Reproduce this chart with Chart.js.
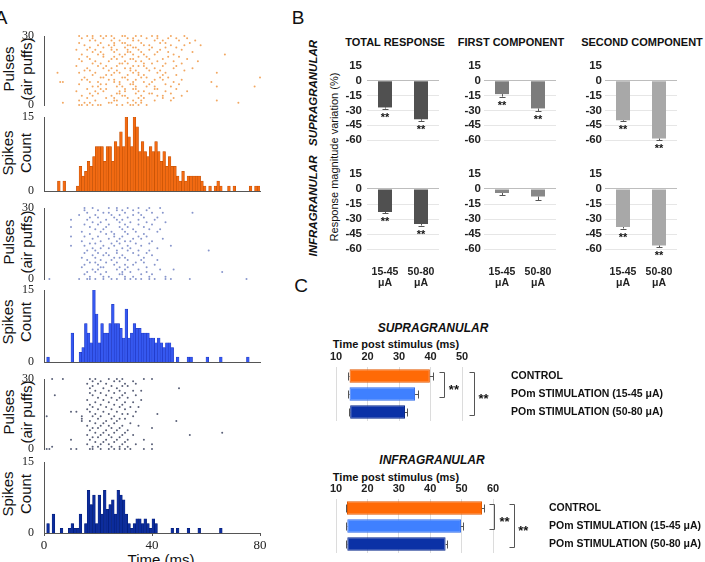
<!DOCTYPE html>
<html><head><meta charset="utf-8"><title>Figure</title>
<script src="https://cdn.jsdelivr.net/npm/chart.js"></script>
<style>
html,body{margin:0;padding:0;background:#fff;}
body{position:relative;width:705px;height:562px;overflow:hidden;font-family:'Liberation Sans',Arial,Helvetica,sans-serif;color:#111;}
.t{position:absolute;white-space:nowrap;transform:translate(-50%,-50%);line-height:1;}
.r{transform:translate(-50%,-50%) rotate(-90deg);text-align:center;}
.lab{font-size:19px;}
.ax{font-size:15px;line-height:17.5px;}
.bt{font-size:11px;font-weight:bold;}
.bi{font-weight:bold;font-style:italic;}
</style></head><body>
<div class="t lab" style="left:1px;top:17px">A</div>
<div class="t lab" style="left:298px;top:17px">B</div>
<div class="t lab" style="left:301px;top:285px">C</div>

<div class="t r ax" style="left:17px;top:69px">Pulses<br>(air puffs)</div>
<div class="t r ax" style="left:16px;top:153px">Spikes<br>Count</div>
<div class="t r ax" style="left:17px;top:242px">Pulses<br>(air puffs)</div>
<div class="t r ax" style="left:16px;top:322px">Spikes<br>Count</div>
<div class="t r ax" style="left:17px;top:412px">Pulses<br>(air puffs)</div>
<div class="t r ax" style="left:16px;top:494px">Spikes<br>Count</div>
<div class="t" style="left:161px;top:559px;font-size:15px">Time (ms)</div>

<div class="t bt" style="left:395px;top:42px">TOTAL RESPONSE</div>
<div class="t bt" style="left:511px;top:42px">FIRST COMPONENT</div>
<div class="t bt" style="left:642px;top:42px">SECOND COMPONENT</div>
<div class="t r bi" style="left:314px;top:93px;font-size:11.5px">SUPRAGRANULAR</div>
<div class="t r bi" style="left:314px;top:206px;font-size:11.5px">INFRAGRANULAR</div>
<div class="t r" style="left:334px;top:157px;font-size:11px">Response magnitude variation (%)</div>

<div class="t bi" style="left:433px;top:328px;font-size:12px">SUPRAGRANULAR</div>
<div class="t bt" style="left:396px;top:344px">Time post stimulus (ms)</div>
<div class="t bi" style="left:432px;top:460px;font-size:12px">INFRAGRANULAR</div>
<div class="t bt" style="left:396px;top:477px">Time post stimulus (ms)</div>

<script>
// ---------------- DATA ----------------
// Panel A: spike counts per 1-ms bin (0..79 ms)
const orangeCounts = [0,0,0,0,0,2,0,2,0,0,
  0,0,1,5,3,4,6,5,7,9,
  9,9,6,9,9,6,10,9,12,9,
  15,11,9,15,13,8,10,8,7,9,
  8,10,8,6,8,5,7,5,5,3,
  2,4,2,3,3,3,3,3,2,1,
  0,1,0,1,2,1,0,0,1,0,
  1,0,0,0,0,0,1,0,1,1];
const blueCounts = [0,1,0,0,0,0,0,0,0,0,
  6,0,0,2,3,8,6,4,15,10,
  4,8,6,6,8,12,8,8,7,5,
  11,5,6,8,7,7,6,6,6,5,
  5,4,5,4,3,4,4,3,0,1,
  0,0,0,1,1,0,0,0,0,0,
  1,0,0,0,0,1,0,0,0,0,
  0,0,0,0,0,1,0,0,0,0];
const navyCounts = [0,2,0,4,0,0,1,0,0,1,
  2,1,1,4,0,2,9,6,8,2,
  8,4,9,5,6,7,4,9,8,7,
  4,2,1,2,3,3,2,3,2,1,
  3,2,0,0,0,0,0,1,0,1,
  0,0,0,1,0,0,0,1,0,0,
  0,0,0,0,0,1,0,0,0,0,
  0,0,0,0,0,0,0,0,0,0];
// Raster spike times (ms), one list per pulse (trial 0..30)
const orangeRaster = [
  [13,14,16,18,20,21,27,29,32,33,35,38],[7,15,17,24,25,31,34,36,72],[13,19,26,27,33,36,41,47,64],
  [16,23,26,31,35,37,44,48],[14,18,25,29,30,36,42,44,51],[17,20,27,28,34,39,40,47],
  [12,19,22,28,30,35,37,45,53],[16,21,23,30,33,34,41,42,49],[18,20,27,29,34,38,41,47,64,78],
  [13,21,23,28,32,33,39,45,50],[6,7,17,20,26,28,33,37,40,48,62],[14,16,24,26,31,34,41,44,51],
  [15,21,22,29,30,36,38,43,46,80],[18,23,25,31,35,37,44,49],[5,13,19,26,28,33,35,42,45,64],
  [15,17,24,27,32,34,39,43,52],[16,22,25,30,32,38,41,48,55],[12,20,23,27,33,35,37,44,49],
  [18,21,28,29,31,37,40,45,51],[14,19,24,30,34,36,42,48,57],[13,17,25,27,32,33,39,44,53],
  [16,22,26,29,35,38,46,50],[14,20,22,28,30,33,37,41,48,67],[18,21,26,31,32,36,42,46,55],
  [12,16,19,25,27,31,35,39,43,51],[17,22,25,30,33,34,40,45,49],[15,20,24,26,31,32,37,39,47,52,58],
  [13,21,26,29,30,36,43,45,54],[17,19,25,28,33,35,41,44,50,56],[14,18,22,26,31,33,38,42,46,49,53],
  [13,16,18,21,23,25,29,30,34,36,40,42,47,52]];
const blueRaster = [
  [2,13,16,17,19,22,25,27,30,32,34,36,39,41,45,47,54,75],[17,22,24,30,33,39,45],[15,21,28,29,36,40],
  [16,19,23,29,32,38,66],[18,20,27,30,35,43,48],[14,21,22,28,31,38],[15,20,26,30,33,41],
  [17,19,23,27,34,37],[16,21,25,31,36,42],[14,19,26,28,30,37],[18,22,24,29,35,40],
  [15,20,23,27,33,38],[16,19,27,31,35,39,61],[18,21,24,29,32,42],[10,15,22,26,31,36,47],
  [17,19,25,28,34,39],[14,21,27,30,32,40],[18,24,28,33,36,44],[10,15,20,26,29,35,38],
  [17,23,26,31,37],[14,21,25,30,34,42],[19,22,29,33,39,43],[10,17,23,28,31,37],
  [15,20,24,30,35,40],[18,21,28,32,38,45],[10,16,23,27,29,35,41],[17,20,26,31,37,42],
  [13,19,25,28,33,36],[16,22,24,30,35,40,44,55],[15,20,27,29,33,38],[15,18,24,27,31,35,39,43]];
const navyRaster = [
  [1,2,10,12,17,18,21,24,26,28,30,32,37,40],[3,18,20,25,28,31],[16,21,24,29,34,40],
  [19,22,26,30],[10,17,23,27,31,37],[18,20,25,28],[16,21,24,29,33,54],[19,22,26,30,66],
  [17,23,27,31],[18,20,25,28,40],[16,21,24,29,35],[19,22,26,32],[14,17,23,27,49],
  [14,20,25,28,30],[1,14,18,21,26,33],[19,24,29,31,42],[10,12,17,22,27,34],[16,20,25,30],
  [18,23,28,32,35],[17,21,26,29],[19,24,30,33],[16,22,27,36],[20,25,28,31],[4,18,23,29,34],
  [17,21,26,30],[19,24,28,33,36],[17,22,27,50],[18,25,29,31],[16,20,23,30,34],
  [18,21,26,28,33],[3,7,17,19,24,27,29,37,40]];

// Panel B: response magnitude variation (%)
const bCats = [['15-45','μA'],['50-80','μA']];
const supraTotal = [-27,-39],   supraTotalErr = [1.2,1.5];
const supraFirst = [-13.5,-28], supraFirstErr = [2.5,3];
const supraSecond = [-40,-58.5],supraSecondErr = [1,1.5];
const infraTotal = [-23,-35],   infraTotalErr = [1,1.5];
const infraFirst = [-4,-7.5],   infraFirstErr = [2,3.5];
const infraSecond = [-38,-56.5],infraSecondErr = [1.5,1.8];
const starsBoth = ['**','**'];
const starsNone = ['',''];

// Panel C: latency windows (ms)
const cCats = ['CONTROL','POm STIMULATION (15-45 μA)','POm STIMULATION (50-80 μA)'];
const supraLatStart = [14.3,14.3,14.5], supraLatEnd = [39.8,35.1,31.9];
const supraLatEndErr = [0.85,1.0,0.5], supraLatStartErr = [0.4,0.4,0.3];
const infraLatStart = [13.5,13.6,13.6], infraLatEnd = [56.5,49.8,44.9];
const infraLatEndErr = [0.65,0.7,0.35], infraLatStartErr = [0.4,0.4,0.3];

// ---------------- SETUP ----------------
const SANS = "'Liberation Sans', Arial, Helvetica, sans-serif";
const SERIF = "'Liberation Serif', 'Times New Roman', serif";
Chart.defaults.font.family = SANS;
Chart.defaults.color = '#222';
Chart.defaults.animation = false;
Chart.defaults.plugins.legend.display = false;
Chart.defaults.plugins.tooltip.enabled = false;

function fit(size, horiz){
  return function(s){
    if (horiz) s.height = size; else s.width = size;
    s.paddingLeft = 0; s.paddingRight = 0; s.paddingTop = 0; s.paddingBottom = 0;
  };
}
function mk(area, m, axes, cfg){
  const cv = document.createElement('canvas');
  const W = area.r - area.l + m.l + m.r, H = area.b - area.t + m.t + m.b;
  cv.width = W; cv.height = H;
  cv.style.cssText = 'position:absolute;left:'+(area.l-m.l)+'px;top:'+(area.t-m.t)+'px;width:'+W+'px;height:'+H+'px;';
  document.body.appendChild(cv);
  cfg.options = cfg.options || {};
  cfg.options.responsive = false;
  cfg.options.maintainAspectRatio = false;
  cfg.options.devicePixelRatio = 1;
  cfg.options.layout = {padding:{left:m.l-(axes.left||0), right:m.r-(axes.right||0), top:m.t-(axes.top||0), bottom:m.b-(axes.bottom||0)}};
  return new Chart(cv.getContext('2d'), cfg);
}

// ---------------- PANEL A ----------------
function raster(area, rows, color){
  const pts = [];
  rows.forEach((times, trial) => times.forEach(t => pts.push({x:t, y:trial})));
  mk(area, {l:44,t:8,r:8,b:4}, {left:44}, {
    type:'scatter',
    data:{datasets:[{data:pts, pointRadius:1, pointBackgroundColor:color, pointBorderWidth:0, clip:false}]},
    options:{scales:{
      x:{type:'linear', min:0, max:80, display:false, afterFit:fit(0,true)},
      y:{min:0, max:30, ticks:{stepSize:30, padding:2, font:{family:SERIF, size:12}, color:'#222'},
         grid:{display:false}, border:{display:true, color:'#555'}, afterFit:fit(44,false)}
    }}
  });
}
function hist(area, counts, fill, edge, showX){
  const data = counts.map((c,i) => ({x:i+0.5, y:c}));
  mk(area, {l:44,t:8,r:8,b:showX?22:4}, {left:44, bottom:showX?18:1}, {
    type:'bar',
    data:{datasets:[{data:data, backgroundColor:fill, borderColor:edge,
      borderWidth:{left:0.5,right:0.5,top:0.5,bottom:0}, barPercentage:1, categoryPercentage:1}]},
    options:{scales:{
      x:{type:'linear', min:0, max:80, offset:false,
         grid:{display:true, offset:false, drawOnChartArea:false, drawTicks:showX, tickLength:3, color:'#555'},
         border:{display:true, color:'#555'},
         ticks:{display:showX, stepSize:40, padding:2, font:{family:SERIF, size:13}, color:'#222'},
         afterFit:fit(showX?18:1,true)},
      y:{min:0, max:15, ticks:{stepSize:15, padding:2, font:{family:SERIF, size:12}, color:'#222'},
         grid:{display:false}, border:{display:true, color:'#555'}, afterFit:fit(44,false)}
    }}
  });
}
raster({l:44,r:260,t:36,b:105}, orangeRaster, '#f2a862');
hist({l:44,r:260,t:117,b:191}, orangeCounts, '#f26a12', '#b84a00', false);
raster({l:44,r:260,t:208,b:279}, blueRaster, '#8896cc');
hist({l:44,r:260,t:290,b:362}, blueCounts, '#3558f0', '#1a30b8', false);
raster({l:44,r:260,t:379,b:449}, navyRaster, '#5a6078');
hist({l:44,r:260,t:462,b:533}, navyCounts, '#0c2c9c', '#001a70', true);

// ---------------- PANEL B ----------------
const bErr = {
  id:'bErr',
  afterDatasetsDraw(chart){
    const ds = chart.data.datasets[0], meta = chart.getDatasetMeta(0), ys = chart.scales.y, ctx = chart.ctx;
    ctx.save();
    ctx.strokeStyle = '#555'; ctx.lineWidth = 1; ctx.fillStyle = '#111';
    ctx.font = "bold 11px " + SANS; ctx.textAlign = 'center'; ctx.textBaseline = 'alphabetic';
    meta.data.forEach((bar,i) => {
      const v = ds.data[i], e = ds.errors[i];
      const y0 = ys.getPixelForValue(v), y1 = ys.getPixelForValue(v - e);
      const x = Math.round(bar.x) + 0.5;
      ctx.beginPath(); ctx.moveTo(x,y0); ctx.lineTo(x,y1);
      ctx.moveTo(x-3,Math.round(y1)+0.5); ctx.lineTo(x+3,Math.round(y1)+0.5); ctx.stroke();
      if (ds.stars[i]) ctx.fillText(ds.stars[i], bar.x, y1 + 12);
    });
    ctx.restore();
  }
};
function bChart(area, values, errs, stars, color, showX, pad){
  mk(area, {l:32,t:8,r:4,b:showX?46:8}, {left:32, bottom:showX?44:0}, {
    type:'bar',
    data:{labels:bCats, datasets:[{data:values, errors:errs, stars:stars, backgroundColor:color,
      barPercentage:0.39, categoryPercentage:1}]},
    options:{scales:{
      x:{display:showX, grid:{display:false}, border:{display:false},
         ticks:{padding:10, font:{size:10.5, weight:'bold', lineHeight:1.05}, color:'#222', maxRotation:0, autoSkip:false},
         afterFit:fit(showX?44:0,true)},
      y:{min:-60, max:15, ticks:{stepSize:15, autoSkip:false, padding:pad, font:{size:11.5, weight:'bold'}, color:'#222'},
         grid:{drawTicks:false, color:(c) => c.tick.value === 0 ? '#bdbdbd' : (c.tick.value === 15 ? 'rgba(0,0,0,0)' : '#e6e6e6')},
         border:{display:false}, afterFit:fit(32,false)}
    }},
    plugins:[bErr]
  });
}
const cTot = '#505050', cFirst = '#7c7c7c', cSecond = '#a8a8a8';
bChart({l:367,r:439,t:66,b:140}, supraTotal, supraTotalErr, starsBoth, cTot, false, 5);
bChart({l:484,r:556,t:66,b:140}, supraFirst, supraFirstErr, starsBoth, cFirst, false, 3);
bChart({l:605,r:677,t:66,b:140}, supraSecond, supraSecondErr, starsBoth, cSecond, false, 3);
bChart({l:367,r:439,t:174,b:249}, infraTotal, infraTotalErr, starsBoth, cTot, true, 5);
bChart({l:484,r:556,t:174,b:249}, infraFirst, infraFirstErr, starsNone, '#888888', true, 3);
bChart({l:605,r:677,t:174,b:249}, infraSecond, infraSecondErr, starsBoth, cSecond, true, 3);

// ---------------- PANEL C ----------------
const cPlugin = {
  id:'cBr',
  afterDatasetsDraw(chart, args, opts){
    const ctx = chart.ctx, xs = chart.scales.x, ys = chart.scales.y;
    const ds = chart.data.datasets[0], meta = chart.getDatasetMeta(0);
    ctx.save(); ctx.strokeStyle = '#555'; ctx.lineWidth = 1;
    let maxR = 0;
    const seg = (a,b,c,d) => { ctx.beginPath(); ctx.moveTo(a,b); ctx.lineTo(c,d); ctx.stroke(); };
    meta.data.forEach((bar,i) => {
      const s = ds.data[i][0], e = ds.data[i][1];
      const x1 = xs.getPixelForValue(e), x2 = Math.round(xs.getPixelForValue(e + ds.endErr[i])) + 0.5;
      const x0 = xs.getPixelForValue(s), xm = Math.round(xs.getPixelForValue(s - ds.startErr[i])) + 0.5;
      const y = Math.round(bar.y) + 0.5, h = 4;
      seg(x1,y,x2,y); seg(x2,y-h,x2,y+h);
      seg(xm,y,x0,y); seg(xm,y-h,xm,y+h);
      maxR = Math.max(maxR, x2);
    });
    ctx.fillStyle = '#111'; ctx.font = 'bold 13px ' + SANS; ctx.textAlign = 'center';
    (opts.brackets || []).forEach(b => {
      const yT = Math.round(ys.getPixelForValue(b.from) - 4) + 0.5, yB = Math.round(ys.getPixelForValue(b.to) + 2.5) + 0.5;
      const x = Math.round(maxR + b.dx) + 0.5;
      ctx.beginPath(); ctx.moveTo(x-5,yT); ctx.lineTo(x,yT); ctx.lineTo(x,yB); ctx.lineTo(x-5,yB); ctx.stroke();
      ctx.fillText(b.label, x + b.sx, (yT + yB)/2 + 9);
    });
    ctx.restore();
  }
};
function cChart(area, starts, ends, endErr, startErr, xmax, labelPad, brackets){
  const data = starts.map((s,i) => [s, ends[i]]);
  const rw = 705 - area.r;
  mk(area, {l:14,t:22,r:rw,b:4}, {top:20, right:rw}, {
    type:'bar',
    data:{labels:cCats, datasets:[{data:data, endErr:endErr, startErr:startErr,
      backgroundColor:['#ff6a06','#3f80ff','#0b31a6'], borderColor:['#e35a00','#2f6ae8','#08278a'],
      borderWidth:1, borderSkipped:false, barPercentage:0.76, categoryPercentage:1}]},
    options:{indexAxis:'y',
      scales:{
        x:{position:'top', min:10, max:xmax, ticks:{stepSize:10, padding:3, font:{size:11, weight:'bold'}, color:'#222'},
           grid:{color:'#dcdcdc', drawTicks:false}, border:{display:false}, afterFit:fit(20,true)},
        y:{position:'right', grid:{display:false}, border:{display:false},
           ticks:{padding:labelPad, font:{size:10.5, weight:'bold'}, color:'#111'}, afterFit:fit(rw,false)}
      },
      plugins:{cBr:{brackets:brackets}}
    },
    plugins:[cPlugin]
  });
}
cChart({l:336,r:462,t:367,b:421}, supraLatStart, supraLatEnd, supraLatEndErr, supraLatStartErr, 50, 41,
  [{from:0,to:1,dx:10.7,sx:9.4,label:'**'},{from:0,to:2,dx:40,sx:9,label:'**'}]);
cChart({l:336,r:493,t:499,b:553}, infraLatStart, infraLatEnd, infraLatEndErr, infraLatStartErr, 60, 48,
  [{from:0,to:1,dx:9,sx:10,label:'**'},{from:0,to:2,dx:29,sx:8.7,label:'**'}]);
</script>
</body></html>
